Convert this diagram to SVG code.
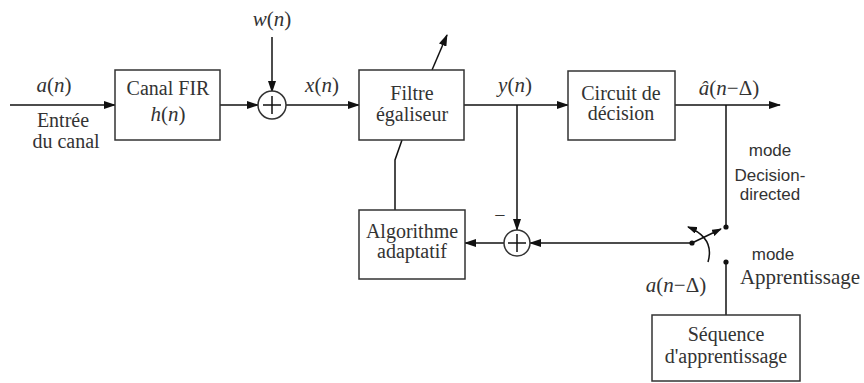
<svg xmlns="http://www.w3.org/2000/svg" width="864" height="383" viewBox="0 0 864 383">
<style>
.box{fill:#fff;stroke:#333;stroke-width:1.5}
.ln{fill:none;stroke:#111;stroke-width:1.5}
.t{font-family:"Liberation Serif","Times New Roman",serif;font-size:20px;fill:#333;text-anchor:middle}
.m{font-family:"Liberation Serif","Times New Roman",serif;font-size:21px;fill:#333;text-anchor:middle}
.s{font-family:"Liberation Sans",Arial,sans-serif;font-size:17px;fill:#333;text-anchor:middle}
.i{font-style:italic}
.dot{fill:#111}
</style>
<defs>
<marker id="ar" markerWidth="12" markerHeight="8" refX="11" refY="4" orient="auto" markerUnits="userSpaceOnUse">
<path d="M0,0 L12,4 L0,8 z" fill="#111"/>
</marker>
<marker id="ar2" markerWidth="10" markerHeight="7" refX="9" refY="3.5" orient="auto" markerUnits="userSpaceOnUse">
<path d="M0,0 L10,3.5 L0,7 z" fill="#111"/>
</marker>
</defs>
<g id="connectors">
<line class="ln" x1="10" y1="105" x2="115" y2="105" marker-end="url(#ar)"/>
<line class="ln" x1="220" y1="105" x2="258" y2="105" marker-end="url(#ar)"/>
<line class="ln" x1="272" y1="37" x2="272" y2="92" marker-end="url(#ar)"/>
<line class="ln" x1="286" y1="105" x2="359" y2="105" marker-end="url(#ar)"/>
<line class="ln" x1="464" y1="105" x2="568" y2="105" marker-end="url(#ar)"/>
<line class="ln" x1="517" y1="105" x2="517" y2="230" marker-end="url(#ar)"/>
<line class="ln" x1="675" y1="105" x2="780" y2="105" marker-end="url(#ar)"/>
<line class="ln" x1="726" y1="105" x2="726" y2="227"/>
<line class="ln" x1="692" y1="243" x2="530" y2="243" marker-end="url(#ar)"/>
<line class="ln" x1="504" y1="243" x2="465" y2="243" marker-end="url(#ar)"/>
<polyline class="ln" points="395,210 395,160 402,140"/>
<line class="ln" x1="432" y1="70" x2="447" y2="35" marker-end="url(#ar)"/>
<line class="ln" x1="726" y1="262" x2="726" y2="315"/>
<line class="ln" x1="692" y1="243" x2="721" y2="229" marker-end="url(#ar2)"/>
<path class="ln" d="M708,262 Q715,238 688,227" marker-end="url(#ar2)"/>
<circle class="dot" cx="692" cy="243" r="2.6"/>
<circle class="dot" cx="726" cy="227" r="2.6"/>
<circle class="dot" cx="726" cy="262" r="2.6"/>
</g>
<g id="canal">
<rect class="box" x="115" y="70" width="105" height="70"/>
<text class="t" x="168" y="95">Canal FIR</text>
<text class="m" x="168" y="121"><tspan class="i">h</tspan>(<tspan class="i">n</tspan>)</text>
</g>
<g id="sum1">
<circle class="box" cx="272" cy="105" r="14"/>
<path class="ln" d="M263,105 H281 M272,96 V114"/>
</g>
<g id="filtre">
<rect class="box" x="359" y="70" width="105" height="70"/>
<text class="t" x="412" y="100">Filtre</text>
<text class="t" x="412" y="121">égaliseur</text>
</g>
<g id="decision">
<rect class="box" x="568" y="71" width="107" height="69"/>
<text class="t" x="621" y="100">Circuit de</text>
<text class="t" x="621" y="120">décision</text>
</g>
<g id="algorithme">
<rect class="box" x="359" y="210" width="106" height="69"/>
<text class="t" x="412" y="238">Algorithme</text>
<text class="t" x="412" y="258">adaptatif</text>
</g>
<g id="sum2">
<circle class="box" cx="517" cy="243" r="13"/>
<path class="ln" d="M508,243 H526 M517,234 V252"/>
</g>
<g id="sequence">
<rect class="box" x="652" y="315" width="148" height="66"/>
<text class="t" x="726" y="341">Séquence</text>
<text class="t" x="726" y="363">d'apprentissage</text>
</g>
<g id="labels">
<text class="m" x="54" y="92"><tspan class="i">a</tspan>(<tspan class="i">n</tspan>)</text>
<text class="t" x="63" y="127">Entrée</text>
<text class="t" x="66" y="148">du canal</text>
<text class="m" x="272" y="26"><tspan class="i">w</tspan>(<tspan class="i">n</tspan>)</text>
<text class="m" x="322" y="92"><tspan class="i">x</tspan>(<tspan class="i">n</tspan>)</text>
<text class="m" x="515" y="92"><tspan class="i">y</tspan>(<tspan class="i">n</tspan>)</text>
<text class="m" x="729" y="95"><tspan class="i">â</tspan>(<tspan class="i">n</tspan>−Δ)</text>
<text class="t" x="500" y="222">−</text>
<text class="s" x="770" y="156">mode</text>
<text class="s" x="770" y="181">Decision-</text>
<text class="s" x="770" y="200">directed</text>
<text class="s" x="773" y="260">mode</text>
<text class="t" x="800" y="284" style="font-size:21px">Apprentissage</text>
<text class="m" x="676" y="292"><tspan class="i">a</tspan>(<tspan class="i">n</tspan>−Δ)</text>
</g>
</svg>
